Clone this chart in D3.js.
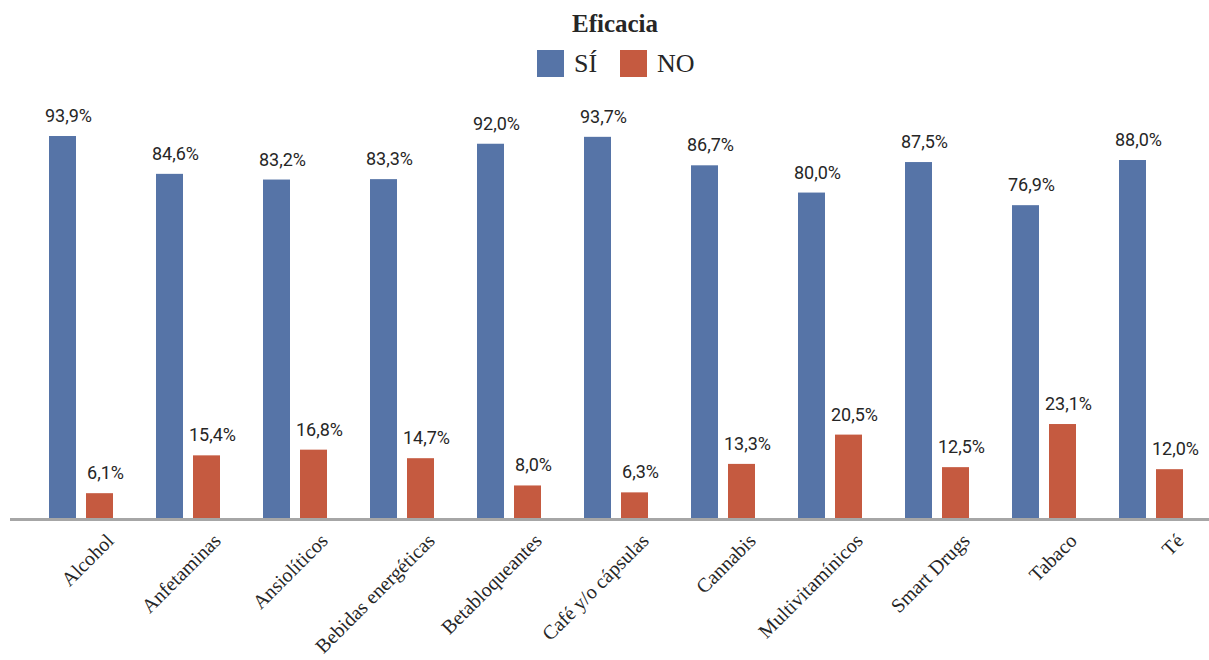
<!DOCTYPE html>
<html>
<head>
<meta charset="utf-8">
<script src="https://cdn.jsdelivr.net/npm/d3@7"></script>
<style>
  body { margin: 0; background: #fff; }
  svg { display: block; }
</style>
</head>
<body>
<svg class="chart"></svg>
<script>
// data
var categories = ["Alcohol", "Anfetaminas", "Ansiolíticos", "Bebidas energéticas", "Betabloqueantes",
  "Café y/o cápsulas", "Cannabis", "Multivitamínicos", "Smart Drugs", "Tabaco", "Té"];
var siValues = [93.9, 84.6, 83.2, 83.3, 92.0, 93.7, 86.7, 80.0, 87.5, 76.9, 88.0];
var noValues = [6.1, 15.4, 16.8, 14.7, 8.0, 6.3, 13.3, 20.5, 12.5, 23.1, 12.0];
var seriesNames = ["SÍ", "NO"];

const colors = { si: "#5674a7", no: "#c55a40", axis: "#a6a6a6", text: "#262626" };

var W = 1209, H = 660;
var baseY = 518;

var svg = d3.select('.chart').attr('width', W).attr('height', H);

var rows = categories.map((c, i) => ({ cat: c, values: [siValues[i], noValues[i]] }));

var x0 = d3.scaleBand()
  .domain(categories)
  .range([27.5, 1204.5])
  .paddingInner(43 / 107)
  .paddingOuter(21.5 / 107);

var x1 = d3.scaleBand()
  .domain([0, 1])
  .range([0, x0.bandwidth()])
  .paddingInner(10 / 37);

var y = d3.scaleLinear()
  .domain([0, 100])
  .range([baseY, baseY - 406.8]);

var z = d3.scaleOrdinal().domain([0, 1]).range([colors.si, colors.no]);

// bars
var groups = svg.append('g').selectAll('g')
  .data(rows)
  .enter()
  .append('g')
  .attr('transform', (d) => 'translate(' + x0(d.cat) + ',0)');

groups.selectAll('rect')
  .data((d) => d.values.map((v, k) => ({ k: k, v: v })))
  .enter()
  .append('rect')
  .attr('x', (d) => x1(d.k))
  .attr('y', (d) => y(d.v))
  .attr('width', x1.bandwidth())
  .attr('height', (d) => baseY - y(d.v))
  .attr('fill', (d) => z(d.k));

// value labels
groups.selectAll('text')
  .data((d) => d.values.map((v, k) => ({ k: k, v: v })))
  .enter()
  .append('text')
  .attr('x', (d) => x1(d.k) + x1.bandwidth() / 2 + 6)
  .attr('y', (d) => y(d.v) - 14)
  .attr('text-anchor', 'middle')
  .style('font-family', 'Roboto, sans-serif')
  .style('font-size', '18px')
  .attr('fill', colors.text)
  .text((d) => d.v.toFixed(1).replace('.', ',') + '%');

// x axis line
svg.append('line')
  .attr('x1', 10).attr('x2', W)
  .attr('y1', baseY + 1.5).attr('y2', baseY + 1.5)
  .attr('stroke', colors.axis)
  .attr('stroke-width', 3);

// category labels, rotated
svg.append('g').selectAll('text')
  .data(categories)
  .enter()
  .append('text')
  .attr('transform', (d) => 'translate(' + (x0(d) + x0.bandwidth() / 2 + 34) + ',' + 542 + ') rotate(-45)')
  .attr('text-anchor', 'end')
  .style('font-family', '"Liberation Serif", "Times New Roman", serif')
  .style('font-size', '20px')
  .attr('fill', colors.text)
  .text((d) => d);

// title
var cx = 615;
svg.append('text')
  .attr('x', cx).attr('y', 32)
  .attr('text-anchor', 'middle')
  .style('font-family', '"Liberation Serif", "Times New Roman", serif')
  .style('font-size', '25px')
  .style('font-weight', 'bold')
  .attr('fill', colors.text)
  .text('Eficacia');

// legend
var legend = svg.append('g').selectAll('g')
  .data(seriesNames)
  .enter()
  .append('g')
  .attr('transform', (d, i) => 'translate(' + (537 + i * 83) + ',50)');

legend.append('rect')
  .attr('width', 27).attr('height', 27)
  .attr('fill', (d, i) => z(i));

legend.append('text')
  .attr('x', 37).attr('y', 22)
  .style('font-family', '"Liberation Serif", "Times New Roman", serif')
  .style('font-size', '26px')
  .attr('fill', colors.text)
  .text((d) => d);
</script>
</body>
</html>
